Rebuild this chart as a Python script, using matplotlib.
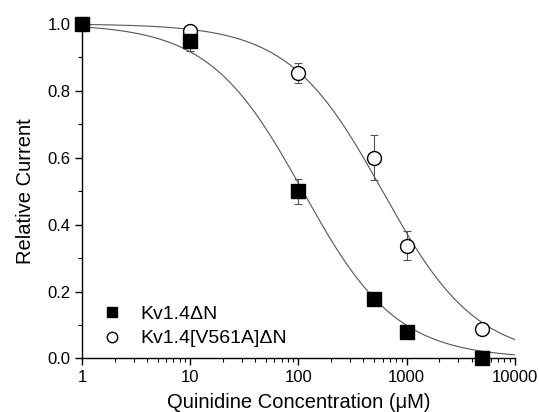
import numpy as np
import matplotlib
matplotlib.use("Agg")
import matplotlib.pyplot as plt
from matplotlib.ticker import MultipleLocator, LogLocator, NullFormatter, FixedLocator, FixedFormatter

plt.rcParams['font.family'] = ['Liberation Sans', 'DejaVu Sans']

conc = [1, 10, 100, 500, 1000, 5000]
wt_vals = [1.0, 0.95, 0.50, 0.178, 0.08, 0.0]
wt_err = [0.0, 0.03, 0.037, 0.0, 0.0, 0.0]
mut_vals = [1.0, 0.98, 0.853, 0.60, 0.337, 0.088]
mut_err = [0.0, 0.015, 0.031, 0.067, 0.044, 0.0]

# Hill fit parameters
wt_ic50, wt_n = 110.0, 1.0
mut_ic50, mut_n = 600.0, 1.0

labels = ["Kv1.4ΔN", "Kv1.4[V561A]ΔN"]
xticks = [1, 10, 100, 1000, 10000]
xticklabels = ["1", "10", "100", "1000", "10000"]

fig = plt.figure(figsize=(5.39, 4.12), dpi=100)
ax = fig.add_axes([0.152, 0.130, 0.803, 0.812])

xf = np.logspace(0, 4, 400)
ax.plot(xf, 1 / (1 + (xf / wt_ic50) ** wt_n), color='#555555', lw=0.8, zorder=2)
ax.plot(xf, 1 / (1 + (xf / mut_ic50) ** mut_n), color='#555555', lw=0.8, zorder=2)

ax.errorbar(conc, mut_vals, yerr=mut_err, fmt='none', ecolor='#555555', elinewidth=0.8,
            capsize=3, capthick=0.8, zorder=3, clip_on=False)
ax.errorbar(conc, wt_vals, yerr=wt_err, fmt='none', ecolor='#555555', elinewidth=0.8,
            capsize=3, capthick=0.8, zorder=3, clip_on=False)
ax.plot(conc, mut_vals, 'o', ms=10, mfc='white', mec='black', mew=1.0, ls='none',
        zorder=4, clip_on=False, label=labels[1])
ax.plot(conc, wt_vals, 's', ms=10, mfc='black', mec='black', ls='none',
        zorder=5, clip_on=False, label=labels[0])

ax.set_xscale('log')
ax.set_xlim(1, 10000)
ax.set_ylim(0, 1.0)

for s in ['top', 'right']:
    ax.spines[s].set_visible(False)
ax.spines['left'].set_linewidth(1.0)
ax.spines['bottom'].set_linewidth(1.0)

ax.xaxis.set_major_locator(FixedLocator(xticks))
ax.xaxis.set_major_formatter(FixedFormatter(xticklabels))
ax.xaxis.set_minor_locator(LogLocator(base=10, subs=np.arange(2, 10)))
ax.xaxis.set_minor_formatter(NullFormatter())
ax.yaxis.set_major_locator(MultipleLocator(0.2))
ax.yaxis.set_minor_locator(MultipleLocator(0.1))
ax.yaxis.set_major_formatter(plt.FuncFormatter(lambda v, p: f"{v:.1f}"))

ax.tick_params(which='major', direction='out', length=5, width=1.0, labelsize=12, pad=3)
ax.tick_params(which='minor', direction='out', length=3, width=0.8)

ax.set_xlabel("Quinidine Concentration (μM)", fontsize=14.5, labelpad=6)
ax.set_ylabel("Relative Current", fontsize=14.5, labelpad=9)

h, l = ax.get_legend_handles_labels()
leg = ax.legend(h[::-1], l[::-1], loc='lower left', frameon=False, fontsize=14,
                markerscale=0.75, handlelength=1.0, handletextpad=0.96,
                borderaxespad=0.0, borderpad=0.0,
                bbox_to_anchor=(0.046, 0.033), labelspacing=0.35)

fig.savefig("out.png", dpi=100)
